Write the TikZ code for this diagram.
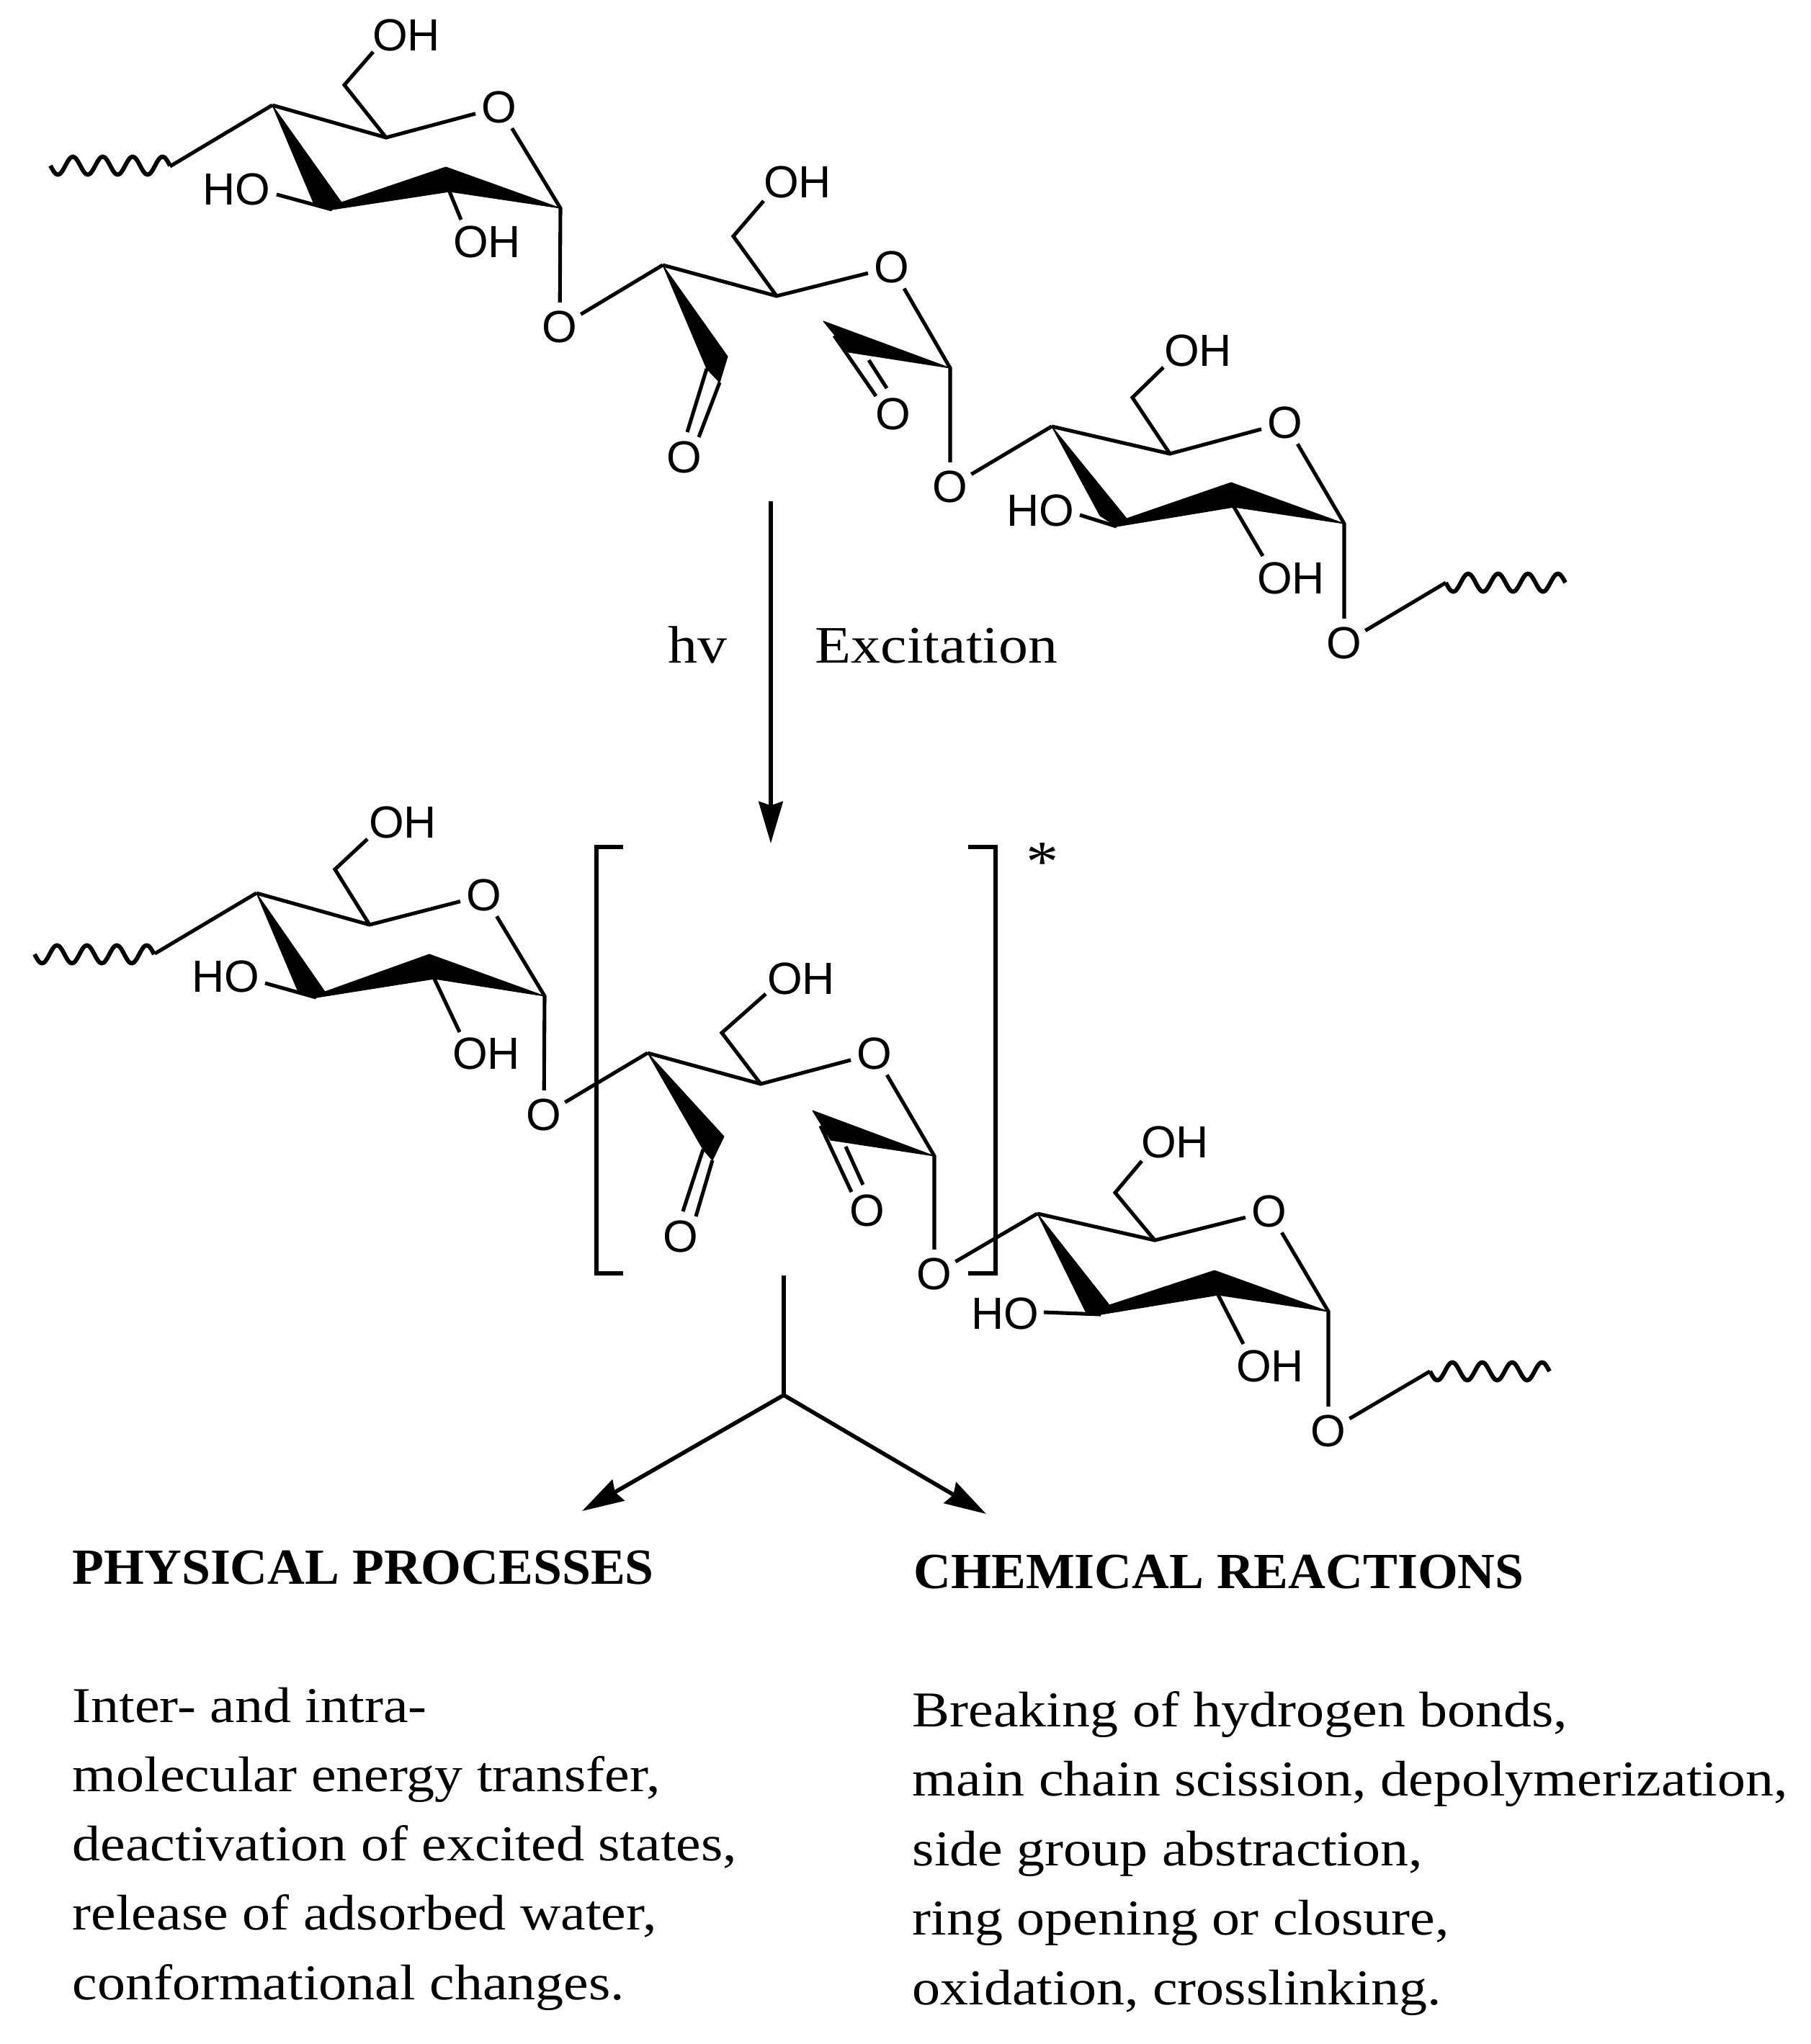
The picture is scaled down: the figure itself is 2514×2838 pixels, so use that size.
\documentclass[tikz,border=0pt]{standalone}
\usepackage{fontspec}
\setmainfont{Liberation Serif}[FakeStretch=1.12]
\newfontfamily\headfont{Liberation Serif}[FakeStretch=1.02]
\newfontfamily\chemfont{Liberation Sans}
\usetikzlibrary{arrows.meta}

\tikzset{
	bond/.style={line width=1.45pt},
	wedge/.style={fill=black,draw=black,line width=.3pt,line join=round},
	atom/.style={circle,inner sep=0pt,minimum size=19pt,font=\chemfont\fontsize{17.8}{18}\selectfont},
	group/.style={inner sep=0pt,font=\chemfont\fontsize{17.8}{18}\selectfont},
	squiggle/.style={line width=1.7pt,line join=round},
	reaction/.style={line width=1.6pt,-{Stealth[length=16.5pt,width=9.5pt,inset=1.5pt]}},
	bracket/.style={line width=1.6pt},
	caption/.style={anchor=base west,inner sep=0pt,font=\fontsize{20.8}{21}\selectfont},
	body/.style={anchor=base west,inner sep=0pt,font=\fontsize{19.8}{20}\selectfont},
	heading/.style={anchor=base west,inner sep=0pt,font=\headfont\bfseries\fontsize{20}{20}\selectfont}
}

\newcommand{\atomlist}[2]{\foreach \n/\x/\y in {#2} \coordinate (#1\n) at (\x,\y);}

% wavy end of the chain, four periods from its left end
\newcommand{\wavyend}[1]{\draw[squiggle,shift={(#1)}] plot[domain=0:4,samples=65,smooth] (\x*41.5,{12.5*sin(\x*360)});}

% intact ring
\newcommand{\sugarunit}[1]{
	\node[atom] (#1O) at (#1o) {O};
	\node[atom] (#1Olink) at (#1lo) {O};
	\node[group] (#1OHtop) at (#1tl) {OH};
	\node[group] (#1HO) at (#1hl) {HO};
	\node[group] (#1OHlow) at (#1ol) {OH};
	\fill[wedge] (#1c4) -- (#1wa) -- (#1c3) -- (#1wb) -- cycle;
	\fill[wedge] (#1wb) -- (#1wt) -- (#1c1) -- (#1wc) -- (#1c3) -- cycle;
	\draw[bond] (#1c4) -- (#1c5) -- (#1O);
	\draw[bond] (#1O) -- (#1c1) -- (#1Olink);
	\draw[bond] (#1c5) -- (#1ch) -- (#1te);
	\draw[bond] (#1he) -- (#1c3);
	\draw[bond] (#1wc) -- (#1oe);
}

% opened ring with the two carbonyls
\newcommand{\openunit}[1]{
	\node[atom] (#1O) at (#1o) {O};
	\node[atom] (#1Olink) at (#1lo) {O};
	\node[atom] (#1Oa) at (#1ao) {O};
	\node[atom] (#1Ob) at (#1sO) {O};
	\node[group] (#1OHtop) at (#1tl) {OH};
	\fill[wedge] (#1c4) -- (#1ar) -- (#1ab) -- (#1al) -- cycle;
	\fill[wedge] (#1c1) -- (#1tp) -- (#1tq) -- cycle;
	\draw[bond] (#1c4) -- (#1c5) -- (#1O);
	\draw[bond] (#1O) -- (#1c1) -- (#1Olink);
	\draw[bond] (#1c5) -- (#1ch) -- (#1te);
	\draw[bond] (#1ab) -- (#1ae);
	\draw[bond] (#1al) -- (#1ai);
	\draw[bond] (#1ts) -- (#1se);
	\draw[bond] (#1si) -- (#1sf);
}

\begin{document}
\begin{tikzpicture}[x=0.01cm,y=-0.01cm]
	\useasboundingbox (0,0) rectangle (2514,2838);

	% top chain
	\atomlist{a}{c4/378/146,c5/536/191,ch/478/118,te/518/72,tl/564/49,o/693/149,c1/778/289,wa/435/281,wb/474/281,c3/461/291,he/384/270,hl/328/263,wt/619/232,wc/624/266,oe/640/305,ol/676/336,lo/777/454,sq/70/230,j/236/231}
	\atomlist{b}{c4/920/368,c5/1078/411,ch/1018/328,te/1060/279,tl/1107/253,o/1238/371,c1/1319/511,ar/1010/495,ab/999/531,al/981/512,ae/970/607,ai/954/600,ao/950/635,tp/1143/446,tq/1178/489,ts/1158/466,se/1216/550,si/1206/500,sf/1231/539,sO/1240/575,lo/1319/676}
	\atomlist{c}{c4/1460/592,c5/1624/630,ch/1572/552,te/1615/510,tl/1663/487,o/1784/587,c1/1866/727,wa/1527/716,wb/1564/720,c3/1550/731,he/1499/715,hl/1444/709,wt/1709/670,wc/1713/704,oe/1753/772,ol/1792/803,lo/1866/893,j/2007/809}
	\sugarunit{a}
	\openunit{b}
	\sugarunit{c}
	\wavyend{asq}
	\draw[bond] (aj) -- (ac4);
	\draw[bond] (aOlink) -- (bc4);
	\draw[bond] (bOlink) -- (cc4);
	\draw[bond] (cOlink) -- (cj);
	\wavyend{cj}

	% excitation
	\coordinate (hvtop) at (1070,696);
	\coordinate (hvtip) at (1070,1171);
	\draw[reaction] (hvtop) -- (hvtip);
	\node[caption] (hv) at (927,920) {hv};
	\node[caption] (excitation) at (1131,920) {Excitation};

	% excited chain
	\atomlist{d}{c4/356/1240,c5/513/1284,ch/465/1207,te/510/1165,tl/559/1142,o/672/1243,c1/756/1383,wa/414/1377,wb/451/1377,c3/439/1385,he/368/1365,hl/313/1356,wt/596/1325,wc/603/1359,oe/638/1433,ol/675/1463,lo/755/1548,sq/48/1325,j/215/1324}
	\atomlist{e}{c4/899/1462,c5/1056/1505,ch/1002/1434,te/1063/1380,tl/1112/1359,o/1214/1463,c1/1297/1605,ar/1005/1578,ab/989/1611,al/976/1596,ae/966/1689,ai/948/1682,ao/945/1717,tp/1128/1542,tq/1153/1583,ts/1139/1563,se/1182/1655,si/1174/1592,sf/1198/1645,sO/1204/1681,lo/1297/1769}
	\atomlist{f}{c4/1440/1685,c5/1603/1722,ch/1548/1656,te/1585/1612,tl/1631/1586,o/1762/1682,c1/1844/1821,wa/1507/1821,wb/1540/1812,c3/1528/1825,he/1449/1822,hl/1395/1824,wt/1686/1764,wc/1691/1798,oe/1726/1866,ol/1763/1897,lo/1844/1987,j/1985/1904}
	\sugarunit{d}
	\openunit{e}
	\sugarunit{f}
	\wavyend{dsq}
	\draw[bond] (dj) -- (dc4);
	\draw[bond] (dOlink) -- (ec4);
	\draw[bond] (eOlink) -- (fc4);
	\draw[bond] (fOlink) -- (fj);
	\wavyend{fj}

	\draw[bracket] (865,1176) -- (828,1176) -- (828,1768) -- (865,1768);
	\draw[bracket] (1344,1176) -- (1382,1176) -- (1382,1768) -- (1344,1768);
	\node[inner sep=0pt,font=\fontsize{23}{23}\selectfont] (star) at (1447,1197) {*};

	% branching
	\coordinate (stem) at (1088,1771);
	\coordinate (fork) at (1088,1937);
	\coordinate (physend) at (808,2098);
	\coordinate (chemend) at (1369,2102);
	\draw[line width=1.6pt] (stem) -- (fork);
	\draw[reaction] (fork) -- (physend);
	\draw[reaction] (fork) -- (chemend);

	\node[heading] (physical) at (100,2199) {PHYSICAL PROCESSES};
	\node[heading] (chemical) at (1268,2205) {CHEMICAL REACTIONS};
	\foreach \i/\t in {0/{Inter- and intra-},1/{molecular energy transfer,},2/{deactivation of excited states,},3/{release of adsorbed water,},4/{conformational changes.}}
		\node[body] (phys\i) at (100,{2391+96.25*\i}) {\t};
	\foreach \i/\t in {0/{Breaking of hydrogen bonds,},1/{main chain scission, depolymerization,},2/{side group abstraction,},3/{ring opening or closure,},4/{oxidation, crosslinking.}}
		\node[body] (chem\i) at (1266,{2397+96.5*\i}) {\t};
\end{tikzpicture}
\end{document}
